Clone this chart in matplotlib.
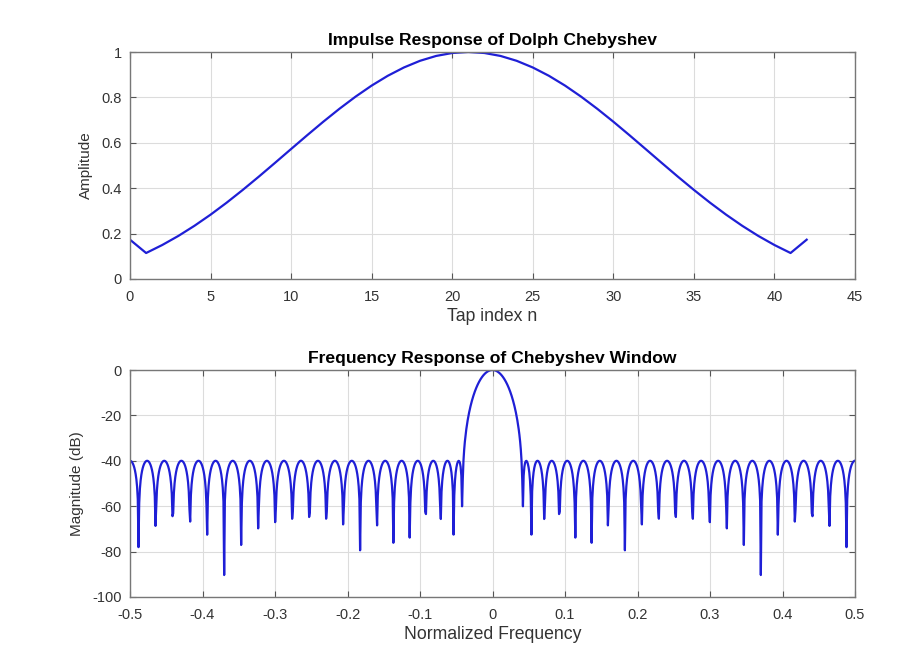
import numpy as np
import matplotlib
matplotlib.use("Agg")
import matplotlib.pyplot as plt

plt.rcParams["font.family"] = ["Liberation Sans", "DejaVu Sans"]
plt.rcParams["axes.unicode_minus"] = False

# Dolph-Chebyshev window taps (43 taps)
taps = [0.1732, 0.1145, 0.1497, 0.1897, 0.2344, 0.2834, 0.3363, 0.3925, 0.4512, 0.5116, 0.5727,
        0.6335, 0.6930, 0.7499, 0.8033, 0.8521, 0.8952, 0.9318, 0.9612, 0.9826, 0.9956, 1.0000,
        0.9956, 0.9826, 0.9612, 0.9318, 0.8952, 0.8521, 0.8033, 0.7499, 0.6930, 0.6335, 0.5727,
        0.5116, 0.4512, 0.3925, 0.3363, 0.2834, 0.2344, 0.1897, 0.1497, 0.1145, 0.1732]
nfft = 1024

top_xticks = [0, 5, 10, 15, 20, 25, 30, 35, 40, 45]
top_yticks = [0, 0.2, 0.4, 0.6, 0.8, 1]
bot_xticks = [-0.5, -0.4, -0.3, -0.2, -0.1, 0, 0.1, 0.2, 0.3, 0.4, 0.5]
bot_yticks = [-100, -80, -60, -40, -20, 0]

w = np.array(taps)
n = np.arange(len(w))

# magnitude response of the taps
H = np.fft.fftshift(np.fft.fft(w, nfft))
f = np.arange(-nfft // 2, nfft // 2) / nfft
mag = 20 * np.log10(np.abs(H) / np.abs(H).max())

fig = plt.figure(figsize=(9.23, 6.66), dpi=100)
ax1 = fig.add_axes([130 / 923, 1 - 279 / 666, 725 / 923, 227 / 666])
ax2 = fig.add_axes([130 / 923, 1 - 597 / 666, 725 / 923, 227 / 666])

line_col = "#1f1fd6"
ax1.plot(n, w, color=line_col, lw=1.6)
ax1.set_xlim(0, 45)
ax1.set_ylim(0, 1)
ax1.set_xticks(top_xticks)
ax1.set_yticks(top_yticks)
ax1.set_yticklabels(["0", "0.2", "0.4", "0.6", "0.8", "1"])
ax1.set_title("Impulse Response of Dolph Chebyshev", fontsize=12.6, fontweight="bold", pad=5)
ax1.set_xlabel("Tap index n", fontsize=12.7, labelpad=3)
ax1.set_ylabel("Amplitude", fontsize=11, labelpad=6)

ax2.plot(f, mag, color=line_col, lw=1.6)
ax2.set_xlim(-0.5, 0.5)
ax2.set_ylim(-100, 0)
ax2.set_xticks(bot_xticks)
ax2.set_xticklabels(["-0.5", "-0.4", "-0.3", "-0.2", "-0.1", "0", "0.1", "0.2", "0.3", "0.4", "0.5"])
ax2.set_yticks(bot_yticks)
ax2.set_title("Frequency Response of Chebyshev Window", fontsize=12.6, fontweight="bold", pad=5)
ax2.set_xlabel("Normalized Frequency", fontsize=12.7, labelpad=3)
ax2.set_ylabel("Magnitude (dB)", fontsize=11, labelpad=6)

for ax in (ax1, ax2):
    ax.grid(True, color="#dcdcdc", lw=0.8)
    ax.set_axisbelow(True)
    ax.tick_params(direction="in", top=True, right=True, length=4, width=0.8,
                   color="#555555", labelcolor="#333333", labelsize=10.5)
    ax.tick_params(axis="x", pad=8)
    ax.tick_params(axis="y", pad=6)
    for sp in ax.spines.values():
        sp.set_color("#777777")
        sp.set_linewidth(1.0)
    ax.yaxis.label.set_color("#333333")
    ax.xaxis.label.set_color("#333333")

fig.savefig("out.png", dpi=100)
